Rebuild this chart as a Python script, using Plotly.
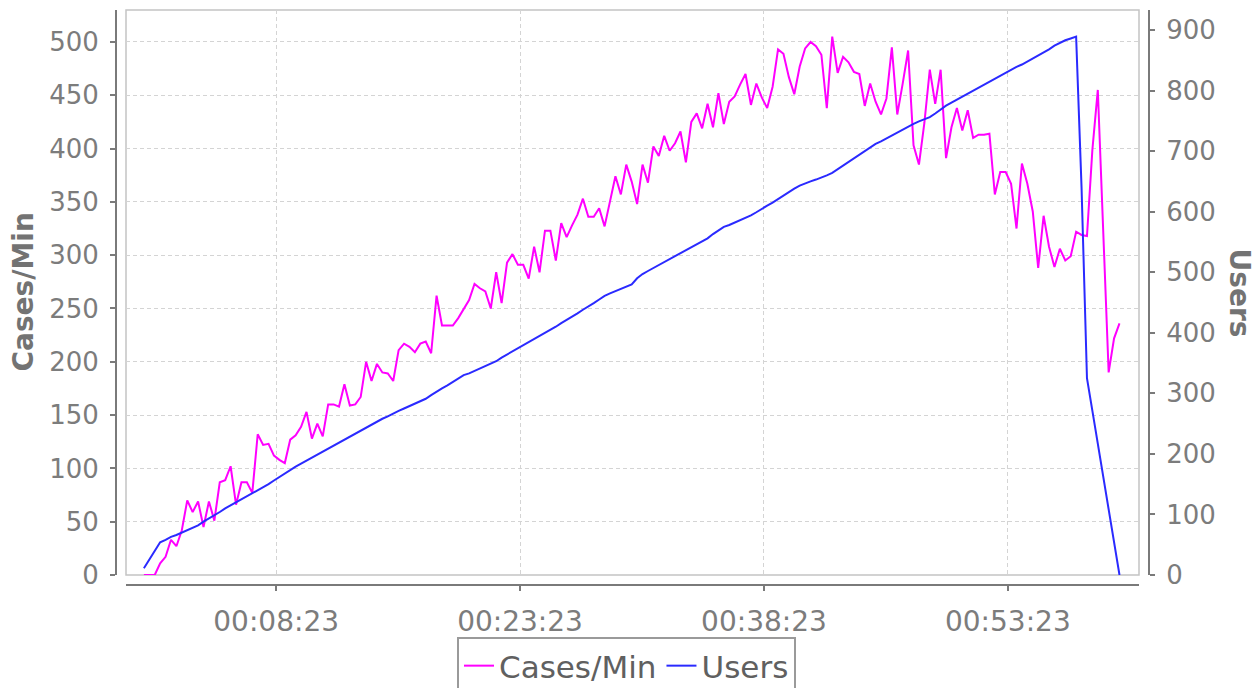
import pandas as pd
import plotly.graph_objects as go

# ── Data (sampled every 20 s from 00:00:15) ──────────────────────────────────
SAMPLE_START = "1970-01-01 00:00:15"
SAMPLE_STEP = "20s"

CASES_PER_MIN = [
    0, 0, 0, 11, 17, 33, 27, 42, 70, 59,
    69, 45, 69, 51, 87, 89, 102, 66, 87, 87,
    77, 132, 122, 123, 112, 108, 105, 127, 131, 139,
    153, 128, 142, 130, 160, 160, 158, 179, 159, 160,
    167, 200, 182, 198, 190, 189, 182, 211, 217, 214,
    209, 217, 219, 208, 262, 234, 234, 234, 241, 250,
    258, 273, 269, 266, 250, 284, 255, 293, 301, 291,
    291, 278, 308, 284, 323, 323, 295, 330, 317, 328,
    338, 353, 336, 336, 344, 327, 349, 374, 357, 385,
    369, 348, 385, 368, 402, 393, 412, 398, 405, 416,
    387, 425, 433, 419, 442, 420, 452, 423, 444, 449,
    460, 470, 441, 461, 448, 438, 458, 493, 489, 467,
    451, 477, 494, 500, 496, 488, 438, 505, 471, 486,
    481, 472, 470, 440, 461, 444, 432, 447, 495, 432,
    461, 492, 403, 385, 424, 474, 442, 474, 391, 420,
    438, 417, 436, 410, 413, 413, 414, 357, 378, 378,
    367, 325, 386, 367, 341, 288, 337, 308, 289, 306,
    295, 299, 322, 319, 318, 399, 455, 322, 190, 222,
    236,
]

USERS = [
    11, 26, 41, 54, 58, 63, 66, 70, 73, 77,
    82, 88, 93, 99, 104, 110, 115, 120, 125, 130,
    134, 139, 144, 150, 156, 162, 168, 174, 179, 184,
    189, 194, 199, 204, 208, 213, 218, 223, 228, 233,
    238, 243, 248, 253, 258, 262, 267, 271, 275, 279,
    283, 287, 291, 297, 303, 308, 313, 319, 324, 330,
    333, 337, 341, 345, 349, 353, 359, 364, 369, 374,
    379, 385, 390, 395, 400, 405, 410, 416, 421, 426,
    432, 438, 443, 449, 455, 461, 465, 469, 473, 477,
    480, 490, 497, 502, 507, 512, 517, 522, 527, 532,
    537, 542, 547, 551, 556, 563, 569, 575, 578, 582,
    585, 590, 594, 599, 605, 610, 615, 621, 627, 632,
    638, 643, 647, 650, 653, 656, 660, 664, 670, 677,
    683, 689, 695, 701, 707, 712, 716, 721, 726, 730,
    735, 741, 745, 749, 753, 756, 762, 769, 775, 780,
    785, 790, 795, 799, 804, 809, 814, 819, 825, 830,
    834, 839, 843, 848, 852, 857, 862, 868, 874, 879,
    883, 886, 889, 640, 325, 271, 217, 163, 108, 54,
    0,
]

TICK_TIMES = ["1970-01-01 00:08:23", "1970-01-01 00:23:23",
              "1970-01-01 00:38:23", "1970-01-01 00:53:23"]
TICK_LABELS = ["00:08:23", "00:23:23", "00:38:23", "00:53:23"]

times = pd.date_range(SAMPLE_START, periods=len(CASES_PER_MIN), freq=SAMPLE_STEP)

# ── Geometry (JFreeChart look: axes offset from the data area) ────────────────
W, H = 1259, 688
M_L, M_R, M_T, M_B = 116, 110, 10, 103
PW, PH = W - M_L - M_R, H - M_T - M_B
X_DOM = [10 / PW, (PW - 10) / PW]
Y_DOM = [10 / PH, 1.0]

AXIS_COL = "#7a7a7a"
TICK_COL = "#7c7c7c"
GRID_COL = "#d4d4d4"
FONT = "DejaVu Sans"

fig = go.Figure()
fig.add_trace(go.Scatter(
    x=times, y=CASES_PER_MIN, name="Cases/Min", mode="lines",
    line=dict(color="#ff00ff", width=2), yaxis="y",
))
fig.add_trace(go.Scatter(
    x=times, y=USERS, name="Users", mode="lines",
    line=dict(color="#2a2aff", width=2), yaxis="y2",
))

# light border round the data area
fig.add_shape(type="rect", xref="paper", yref="paper",
              x0=X_DOM[0], x1=X_DOM[1], y0=Y_DOM[0], y1=Y_DOM[1],
              line=dict(color="#c4c4c4", width=1.5), layer="below")

fig.add_annotation(text="<b>Cases/Min</b>", xref="paper", yref="paper",
                   x=(23 - M_L) / PW, y=(Y_DOM[0] + Y_DOM[1]) / 2,
                   xanchor="center", yanchor="middle",
                   textangle=-90, showarrow=False,
                   font=dict(family=FONT, size=28, color="#737373"))
fig.add_annotation(text="<b>Users</b>", xref="paper", yref="paper",
                   x=(1239 - M_L) / PW, y=(Y_DOM[0] + Y_DOM[1]) / 2,
                   xanchor="center", yanchor="middle",
                   textangle=90, showarrow=False,
                   font=dict(family=FONT, size=28, color="#737373"))

tick_font = dict(family=FONT, size=26, color=TICK_COL)

fig.update_layout(
    width=W, height=H,
    margin=dict(l=M_L, r=M_R, t=M_T, b=M_B, autoexpand=False),
    paper_bgcolor="white", plot_bgcolor="white",
    font=dict(family=FONT, color="#666666"),
    xaxis=dict(
        domain=X_DOM, anchor="free", position=0, automargin=False,
        type="date",
        range=["1969-12-31 23:59:09", "1970-01-01 01:01:27"],
        tickvals=TICK_TIMES, ticktext=TICK_LABELS,
        tickfont=dict(family=FONT, size=28, color=TICK_COL),
        ticks="outside", ticklen=5, tickwidth=1.5, tickcolor=AXIS_COL,
        ticklabelstandoff=6,
        showline=True, linecolor=AXIS_COL, linewidth=2,
        showgrid=True, gridcolor=GRID_COL, griddash="4px,3px", gridwidth=1,
        zeroline=False,
    ),
    yaxis=dict(
        domain=Y_DOM, anchor="free", position=0, automargin=False,
        range=[0, 530], dtick=50,
        tickfont=tick_font,
        ticks="outside", ticklen=5, tickwidth=1.5, tickcolor=AXIS_COL,
        ticklabelstandoff=6,
        showline=True, linecolor=AXIS_COL, linewidth=2,
        showgrid=True, gridcolor=GRID_COL, griddash="4px,3px", gridwidth=1,
        zeroline=False,
    ),
    yaxis2=dict(
        domain=Y_DOM, anchor="free", position=1, overlaying="y", side="right",
        automargin=False,
        range=[0, 933], dtick=100,
        tickfont=tick_font,
        ticks="outside", ticklen=5, tickwidth=1.5, tickcolor=AXIS_COL,
        ticklabelstandoff=6,
        showline=True, linecolor=AXIS_COL, linewidth=2,
        showgrid=False, zeroline=False,
    ),
    showlegend=True,
    legend=dict(
        orientation="h", x=(457 - M_L) / PW, y=-(637 - (H - M_B)) / PH,
        xanchor="left", yanchor="top",
        font=dict(family=FONT, size=31, color="#606060"),
        bordercolor="#9a9a9a", borderwidth=2, bgcolor="white",
        itemwidth=30, tracegroupgap=0,
    ),
)

# page has a default 8px body margin; drop it so the chart sits at (0, 0)
fig.write_html("out.html", config={"displayModeBar": False},
               post_script="document.body.style.margin='0px';")
